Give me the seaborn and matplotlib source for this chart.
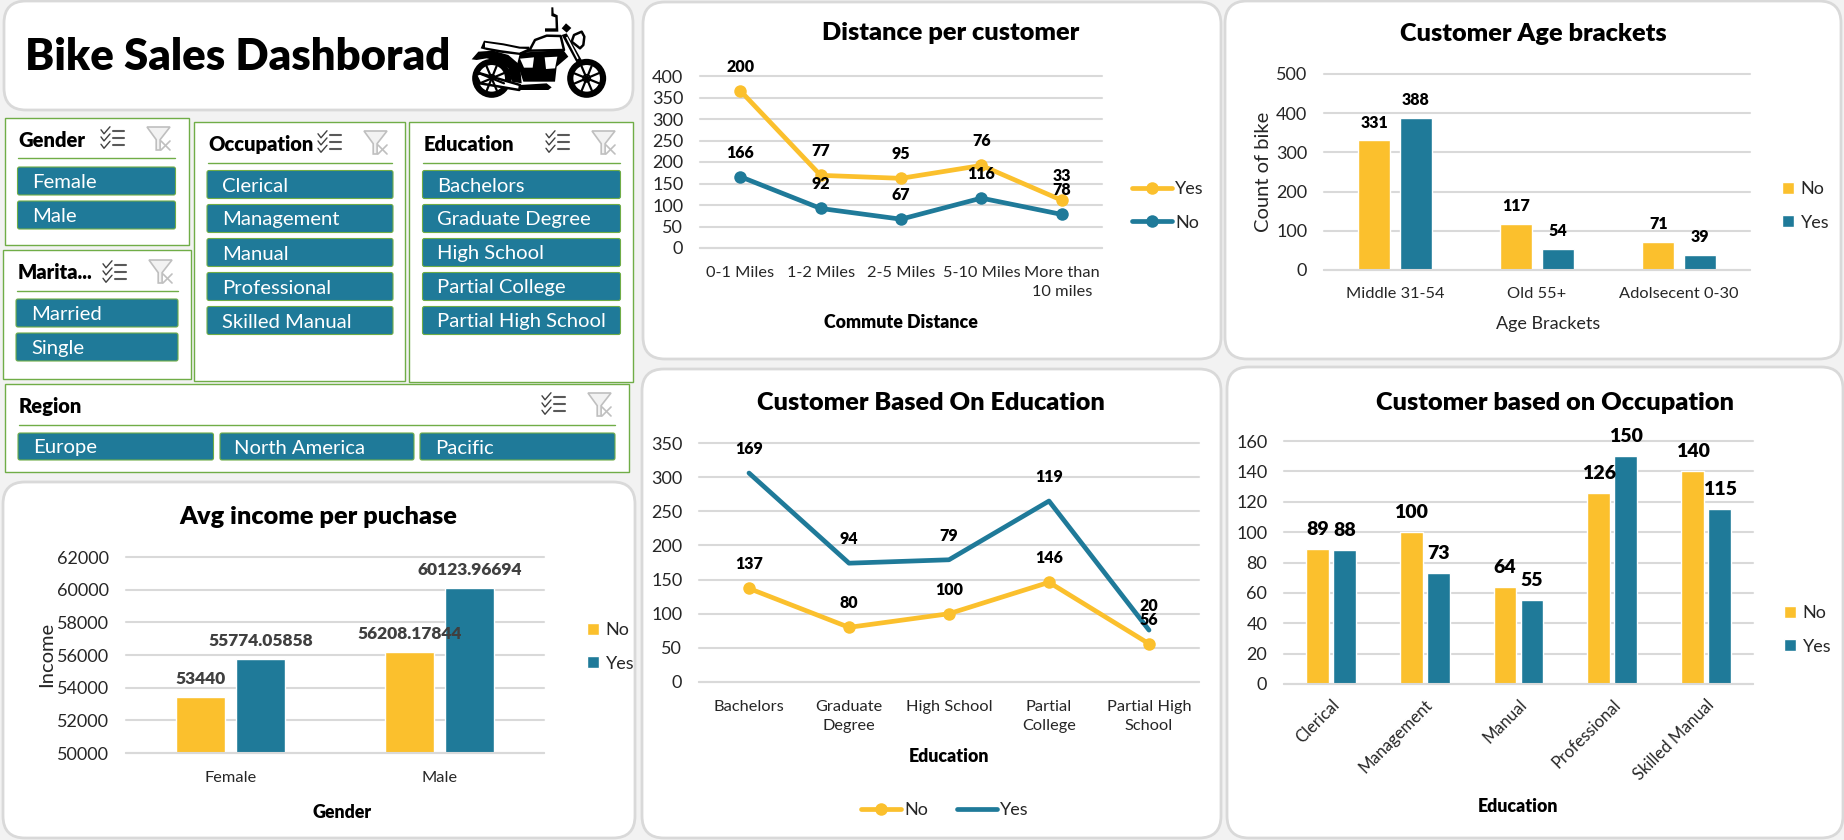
import matplotlib
matplotlib.use('Agg')
import matplotlib.pyplot as plt
import seaborn as sbn
import pandas as pd
import numpy as np
from matplotlib.lines import Line2D
from matplotlib.patches import Circle, FancyBboxPatch, Patch, Polygon, Rectangle

# chart data
commute_labels = ['0-1 Miles', '1-2 Miles', '2-5 Miles', '5-10 Miles', 'More than\n10 miles']
commute_no = [166, 92, 67, 116, 78]
commute_yes = [200, 77, 95, 76, 33]

age_labels = ['Middle 31-54', 'Old 55+', 'Adolsecent 0-30']
age_no = [331, 117, 71]
age_yes = [388, 54, 39]

gender_labels = ['Female', 'Male']
income_no = [53440, 56208.17844]
income_yes = [55774.05858, 60123.96694]

education_labels = ['Bachelors', 'Graduate\nDegree', 'High School', 'Partial\nCollege', 'Partial High\nSchool']
education_no = [137, 80, 100, 146, 56]
education_yes = [169, 94, 79, 119, 20]

occupation_labels = ['Clerical', 'Management', 'Manual', 'Professional', 'Skilled Manual']
occupation_no = [89, 100, 64, 126, 140]
occupation_yes = [88, 73, 55, 150, 115]

slicer_gender = ['Female', 'Male']
slicer_marital = ['Married', 'Single']
slicer_occupation = ['Clerical', 'Management', 'Manual', 'Professional', 'Skilled Manual']
slicer_education = ['Bachelors', 'Graduate Degree', 'High School', 'Partial College', 'Partial High School']
slicer_region = ['Europe', 'North America', 'Pacific']

W, H = 1844, 840
YELLOW = '#FBC02D'
TEAL = '#1F7A99'
GRID = '#D9D9D9'
GREEN = '#70AD47'
TEXT = '#262626'
PX = 72 / 100  # points per pixel at dpi 100
HEAVY = 800
LW = 3.4
MS = 9

sbn.set_theme(style='white')
plt.rcParams['font.family'] = ['Lato', 'DejaVu Sans']

fig = plt.figure(figsize=(W / 100, H / 100), dpi=100, facecolor='#F2F2F2')
bg = fig.add_axes([0, 0, 1, 1])
bg.set_xlim(0, W)
bg.set_ylim(H, 0)
bg.axis('off')


def panel(x0, y0, x1, y1):
    bg.add_patch(FancyBboxPatch((x0, y0), x1 - x0, y1 - y0, boxstyle='round,pad=0,rounding_size=22',
                                fc='white', ec=GRID, lw=2))


def check_icon(x, y):
    for row in [0.18, 0.52, 0.87]:
        ry = y + 21 * row
        bg.plot([x, x + 3, x + 9], [ry - 1, ry + 3, ry - 4], color='#404040', lw=1)
        bg.plot([x + 12, x + 23], [ry, ry], color='#595959', lw=1.5)


def filter_icon(x, y):
    pts = [(0, 0), (1, 0), (.57, .55), (.57, 1), (.4, 1), (.4, .55)]
    bg.add_patch(Polygon([(x + 23 * a, y + 23 * b) for a, b in pts], fc='#F2F2F2', ec='#BFBFBF', lw=1.2))
    bg.plot([x + 14, x + 23], [y + 14, y + 23], color='#BFBFBF', lw=1.2)
    bg.plot([x + 14, x + 23], [y + 23, y + 14], color='#BFBFBF', lw=1.2)


def button(x0, y0, x1, y1, label, text_x):
    bg.add_patch(FancyBboxPatch((x0, y0), x1 - x0, y1 - y0, boxstyle='round,pad=0,rounding_size=2',
                                fc=TEAL, ec=GREEN, lw=0.8))
    bg.text(text_x, (y0 + y1) / 2 + 1.5, label, color='white', fontsize=14.6, ha='left', va='center')


def slicer(box, title, title_xy, line, check_xy, filter_xy):
    bg.add_patch(Rectangle((box[0], box[1]), box[2] - box[0], box[3] - box[1], fc='white', ec=GREEN, lw=1))
    bg.text(title_xy[0], title_xy[1] + 1.5, title, color='black', fontsize=14.5, fontweight=HEAVY, ha='left', va='center')
    bg.plot([line[0], line[1]], [line[2], line[2]], color=GREEN, lw=1)
    check_icon(*check_xy)
    filter_icon(*filter_xy)


def stacked_buttons(labels, x0, x1, y0, text_x):
    for i, label in enumerate(labels):
        button(x0, y0 + 34 * i, x1, y0 + 34 * i + 28, label, text_x)


def bike():
    # icon drawn in its own 3x crop coordinates
    def t(pts):
        return [(440 + a / 3, b / 3) for a, b in pts]

    def poly(pts, fc='black', ec='black', lw=0):
        bg.add_patch(Polygon(t(pts), fc=fc, ec=ec, lw=lw, joinstyle='round'))

    for cx, hub in [(155, 'black'), (440, 'white')]:
        cy = 235
        c = t([(cx, cy)])[0]
        bg.add_patch(Circle(c, 19.5, fc='black', ec='none'))
        bg.add_patch(Circle(c, 13.3, fc='white', ec='none'))
        for ang in np.arange(0, 180, 45) + 22:
            dx, dy = 13.3 * np.cos(np.radians(ang)), 13.3 * np.sin(np.radians(ang))
            bg.plot([c[0] - dx, c[0] + dx], [c[1] - dy, c[1] + dy], color='black', lw=1.6)
        bg.add_patch(Circle(c, 3.6, fc=hub, ec='black', lw=1.2))
    poly([(95, 178), (115, 155), (160, 152), (205, 165), (240, 195), (245, 250), (215, 245), (205, 205), (180, 185), (140, 175), (110, 180)])
    poly([(122, 145), (132, 122), (190, 130), (240, 140), (268, 140), (268, 155), (240, 165), (180, 158), (140, 150)])
    poly([(135, 128), (190, 136), (238, 146), (262, 147), (238, 158), (180, 150), (135, 142)], fc='white')
    poly([(268, 152), (285, 120), (320, 107), (362, 108), (372, 150)], fc='white', lw=1.8)
    poly([(240, 158), (370, 150), (385, 170), (350, 200), (345, 245), (250, 245), (232, 190)])
    poly([(240, 176), (282, 172), (278, 203), (252, 203)], fc='white')
    poly([(314, 172), (352, 170), (345, 205), (318, 207)], fc='white')
    poly([(108, 225), (120, 220), (240, 255), (238, 270), (120, 250)], fc='white', lw=1.8)
    poly([(240, 255), (320, 250), (335, 262), (325, 270), (240, 270)], fc='black')
    poly([(395, 125), (402, 105), (425, 95), (433, 110), (430, 135), (420, 145)], fc='white', lw=1.8)
    poly([(365, 105), (380, 100), (425, 180), (410, 188)])
    poly([(378, 112), (382, 110), (416, 175), (412, 178)], fc='white')
    poly([(378, 70), (394, 84), (380, 98), (365, 85)])
    poly([(334, 22), (340, 22), (341, 40), (353, 46), (355, 95), (315, 95), (315, 85), (347, 85), (346, 52), (334, 48)])


def px_axes(x0, y0, x1, y1):
    ax = fig.add_axes([x0 / W, 1 - y1 / H, (x1 - x0) / W, (y1 - y0) / H])
    ax.patch.set_alpha(0)
    return ax


def style_axes(ax, ylim, step, title, title_xy, xlabel, xlabel_xy, xbold=True, ylabel=None, ylabel_xy=None):
    ax.set_ylim(*ylim)
    ax.set_yticks(np.arange(ylim[0], ylim[1] + 1, step))
    ax.set_axisbelow(True)
    ax.grid(axis='y', color=GRID, lw=1.5, clip_on=False)
    ax.grid(axis='x', visible=False)
    sbn.despine(ax=ax, left=True, bottom=True)
    ax.tick_params(axis='y', length=0, pad=12, labelsize=13, labelcolor=TEXT)
    ax.tick_params(axis='x', length=0, pad=13, labelsize=11.8, labelcolor=TEXT)
    for lab in ax.get_xticklabels():
        lab.set_linespacing(1.45)
    ax.text(title_xy[0], title_xy[1] + 1, title, transform=bg.transData, color='black', fontsize=18.2,
            fontweight=HEAVY, ha='center', va='center')
    ax.set_xlabel(xlabel, fontsize=12.8 if xbold else 13, fontweight=HEAVY if xbold else 'normal',
                  color='black' if xbold else TEXT, va='center')
    ax.xaxis.set_label_coords(xlabel_xy[0], xlabel_xy[1], transform=bg.transData)
    if ylabel:
        ax.set_ylabel(ylabel, fontsize=14.5, color=TEXT, va='center')
        ax.yaxis.set_label_coords(ylabel_xy[0], ylabel_xy[1], transform=bg.transData)
    else:
        ax.set_ylabel('')
    ax.axhline(ylim[0], color=GRID, lw=1.5, zorder=4, clip_on=False)


def bar_chart(box, cats, no, yes, width, gap):
    ax = px_axes(*box)
    df = pd.DataFrame({'cat': list(cats) * 2, 'val': list(no) + list(yes),
                       'Purchased': ['No'] * len(cats) + ['Yes'] * len(cats)})
    sbn.barplot(data=df, x='cat', y='val', hue='Purchased', hue_order=['No', 'Yes'],
                palette={'No': YELLOW, 'Yes': TEAL}, width=width, gap=gap, saturation=1,
                legend=False, ax=ax)
    ax.set_xlim(-0.5, len(cats) - 0.5)
    return ax


def bar_legend(ax, x, y):
    handles = [Patch(fc=YELLOW, label='No'), Patch(fc=TEAL, label='Yes')]
    ax.legend(handles=handles, loc='center left', bbox_to_anchor=(x, y), bbox_transform=bg.transData,
              frameon=False, fontsize=13, handlelength=0.68, handleheight=0.68, handletextpad=0.35,
              labelspacing=0.95, borderpad=0, borderaxespad=0, labelcolor=TEXT)


def line_labels(ax, ys, labels, order):
    for i, (y, label) in enumerate(zip(ys, labels)):
        ax.annotate(str(label), (i, y), xytext=(0, 24 * PX), textcoords='offset points', ha='center',
                    va='center', fontsize=11.5, fontweight=HEAVY, color='black', zorder=order)


# panels
panel(4, 1, 633, 110)
panel(643, 2, 1221, 359)
panel(1225, 1, 1841, 359)
panel(3, 482, 635, 838)
panel(642, 369, 1221, 838)
panel(1227, 367, 1843, 838)

bg.text(25, 57, 'Bike Sales Dashborad', color='black', fontsize=31.4, fontweight=HEAVY, ha='left', va='center')
bike()

# slicers
slicer((4.5, 118, 189, 245), 'Gender', (18, 139), (18, 175, 158), (101, 127), (147, 127))
stacked_buttons(slicer_gender, 17.5, 175.5, 167, 32)
slicer((3, 250, 191, 379), 'Marita...', (17.5, 271), (17, 178, 291), (103, 261), (149, 260))
stacked_buttons(slicer_marital, 16, 178, 299, 31)
slicer((194, 122, 405, 381), 'Occupation', (208.5, 143), (208, 392, 163), (318, 131), (364, 131))
stacked_buttons(slicer_occupation, 207, 393, 170.5, 222)
slicer((409, 122, 633, 382), 'Education', (424, 143), (423, 620, 163), (546, 131), (592, 131))
stacked_buttons(slicer_education, 422.5, 620.5, 170.5, 437)
slicer((5, 384, 629, 472), 'Region', (19, 405), (19, 615, 425), (542, 393), (588, 393))
region_x = [(18, 213.5, 33), (220, 414, 234), (420, 615, 435)]
for label, (bx0, bx1, tx) in zip(slicer_region, region_x):
    button(bx0, 433, bx1, 460, label, tx)

# Distance per customer, the Yes line is stacked on top of No
ax = px_axes(700, 76, 1102, 248)
commute_total = np.add(commute_no, commute_yes)
sbn.lineplot(x=commute_labels, y=commute_total, sort=False, color=YELLOW, marker='o', lw=LW, ms=MS,
             markeredgewidth=0, solid_capstyle='round', errorbar=None, ax=ax)
sbn.lineplot(x=commute_labels, y=commute_no, sort=False, color=TEAL, marker='o', lw=LW, ms=MS,
             markeredgewidth=0, solid_capstyle='round', errorbar=None, ax=ax)
ax.set_xlim(-0.5, 4.5)
style_axes(ax, (0, 400), 50, 'Distance per customer', (951, 32), 'Commute Distance', (901, 323))
line_labels(ax, commute_total, commute_yes, 6)
line_labels(ax, commute_no, commute_no, 6)
ax.legend(handles=[Line2D([], [], color=YELLOW, marker='o', lw=LW, ms=MS, mew=0, label='Yes', solid_capstyle='round'),
                   Line2D([], [], color=TEAL, marker='o', lw=LW, ms=MS, mew=0, label='No', solid_capstyle='round')],
          loc='center left', bbox_to_anchor=(1132, 206), bbox_transform=bg.transData, frameon=False, fontsize=13,
          handlelength=2.2, handletextpad=0.2, labelspacing=0.95, borderpad=0, borderaxespad=0, labelcolor=TEXT)

# Customer Age brackets
ax = bar_chart((1324, 74, 1750, 270), age_labels, age_no, age_yes, 0.578, 0.22)
style_axes(ax, (0, 500), 100, 'Customer Age brackets', (1533, 33), 'Age Brackets', (1548, 324), xbold=False,
           ylabel='Count of bike', ylabel_xy=(1263, 172))
ax.tick_params(axis='x', pad=12)
for cont, vals in zip(ax.containers, [age_no, age_yes]):
    ax.bar_label(cont, labels=[str(v) for v in vals], padding=7, fontsize=11.5, fontweight=HEAVY, color='black')
bar_legend(ax, 1782, 206)

# Avg income per puchase
ax = bar_chart((126, 557, 544, 753), gender_labels, income_no, income_yes, 0.574, 0.18)
style_axes(ax, (50000, 62000), 2000, 'Avg income per puchase', (318, 516), 'Gender', (342, 813),
           ylabel='Income', ylabel_xy=(47, 654))
for cont, vals in zip(ax.containers, [income_no, income_yes]):
    ax.bar_label(cont, labels=[str(v) for v in vals], padding=7, fontsize=12.5, fontweight=HEAVY, color='#404040')
bar_legend(ax, 587, 647)

# Customer Based On Education, also stacked
ax = px_axes(699, 443, 1199, 682)
education_total = np.add(education_no, education_yes)
sbn.lineplot(x=education_labels, y=education_no, sort=False, color=YELLOW, marker='o', lw=LW, ms=MS,
             markeredgewidth=0, solid_capstyle='round', errorbar=None, ax=ax)
sbn.lineplot(x=education_labels, y=education_total, sort=False, color=TEAL, lw=LW,
             solid_capstyle='round', errorbar=None, ax=ax)
ax.set_xlim(-0.5, 4.5)
style_axes(ax, (0, 350), 50, 'Customer Based On Education', (931, 402), 'Education', (949, 757))
line_labels(ax, education_total, education_yes, 6)
line_labels(ax, education_no, education_no, 6)
ax.legend(handles=[Line2D([], [], color=YELLOW, marker='o', lw=LW, ms=MS, mew=0, label='No', solid_capstyle='round'),
                   Line2D([], [], color=TEAL, lw=LW, label='Yes', solid_capstyle='round')],
          loc='center left', bbox_to_anchor=(861, 810), bbox_transform=bg.transData, frameon=False, fontsize=13, ncol=2,
          handlelength=2.2, handletextpad=0.2, columnspacing=1.6, borderpad=0, borderaxespad=0, labelcolor=TEXT)

# Customer based on Occupation
ax = bar_chart((1284, 441, 1753, 684), occupation_labels, occupation_no, occupation_yes, 0.576, 0.15)
style_axes(ax, (0, 160), 20, 'Customer based on Occupation', (1555, 402), 'Education', (1518, 806))
for cont, vals in zip(ax.containers, [occupation_no, occupation_yes]):
    ax.bar_label(cont, labels=[str(v) for v in vals], padding=8, fontsize=14, fontweight=HEAVY, color='black')
plt.setp(ax.get_xticklabels(), rotation=45, ha='right', rotation_mode='anchor')
ax.tick_params(axis='x', pad=9, labelsize=12)
bar_legend(ax, 1784, 630)

fig.savefig('out.png', dpi=100, facecolor=fig.get_facecolor())
